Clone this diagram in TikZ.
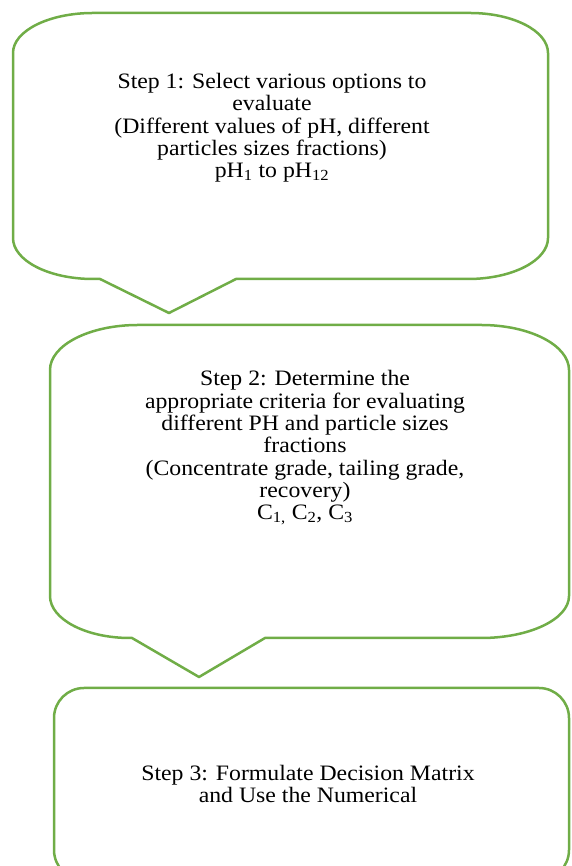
\documentclass[tikz,border=0pt]{standalone}
\usepackage{fontspec}
\setmainfont[FakeStretch=1.08]{Liberation Serif}
\definecolor{stepgreen}{RGB}{112,173,71}
\begin{document}
\begin{tikzpicture}[x=1pt,y=1pt,line join=round,
		bubble/.style={draw=stepgreen,line width=2.5pt},
		steptext/.style={align=center,inner sep=0pt,font=\fontsize{22}{22.3}\selectfont}]
			\useasboundingbox (0,0) rectangle (571,866);
			% first callout
			\draw[bubble] (93,853) -- (470,853)
				arc[start angle=90,end angle=0,x radius=78,y radius=40] -- (548,628)
				arc[start angle=0,end angle=-90,x radius=80,y radius=41] -- (236,587)
				-- (169,553) -- (100,587) -- (93,587)
				arc[start angle=270,end angle=180,x radius=80,y radius=41] -- (13,813)
				arc[start angle=180,end angle=90,x radius=80,y radius=40] -- cycle;
			% second callout
			\draw[bubble] (138,541) -- (481,541)
				arc[start angle=90,end angle=0,x radius=88,y radius=45] -- (569,270)
				arc[start angle=0,end angle=-90,x radius=88,y radius=42] -- (265,228)
				-- (199,189) -- (132,228) -- (130,228)
				arc[start angle=270,end angle=180,x radius=80,y radius=42] -- (50,496)
				arc[start angle=180,end angle=90,x radius=88,y radius=45] -- cycle;
			% last box, cut by the page
			\draw[bubble,rounded corners=30pt] (54,-14) rectangle (569,178);
			\node[steptext] (step1) at (272,738) {Step 1: Select various options to\\evaluate\\(Different values of pH, different\\particles sizes fractions)\\pH\textsubscript{1} to pH\textsubscript{12}};
			\node[steptext] (step2) at (305,418) {Step 2: Determine the\\appropriate criteria for evaluating\\different PH and particle sizes\\fractions\\(Concentrate grade, tailing grade,\\recovery)\\C\textsubscript{1,} C\textsubscript{2}, C\textsubscript{3}};
			\node[steptext] (step3) at (308,82) {Step 3: Formulate Decision Matrix\\and Use the Numerical};
	\end{tikzpicture}
\end{document}
